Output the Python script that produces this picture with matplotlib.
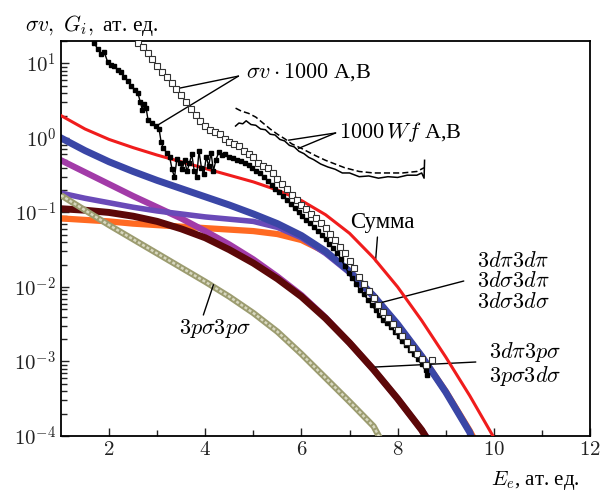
import numpy as np
import matplotlib
matplotlib.use("Agg")
import matplotlib.pyplot as plt

plt.rcParams['mathtext.fontset'] = 'cm'
plt.rcParams['font.family'] = ['Liberation Serif', 'DejaVu Serif']

# values are log10 of the quantity
sum_x = [1, 1.5, 2, 2.5, 3, 3.5, 4, 4.5, 5, 5.5, 6, 6.5, 7, 7.5, 8, 8.5, 9, 9.5, 10]
sum_lg = [0.30, 0.12, -0.02, -0.13, -0.23, -0.32, -0.41, -0.50, -0.59, -0.70,
          -0.84, -1.03, -1.28, -1.61, -2.00, -2.45, -2.94, -3.46, -4.02]

blue_x = [1, 1.5, 2, 2.5, 3, 3.5, 4, 4.5, 5, 5.5, 6, 6.5, 7, 7.5, 8, 8.5, 9, 9.5, 9.55]
blue_lg = [0.0, -0.17, -0.32, -0.45, -0.57, -0.68, -0.79, -0.90, -1.02, -1.15,
           -1.31, -1.52, -1.79, -2.12, -2.50, -2.93, -3.41, -3.95, -4.05]

slate_x = [1, 1.5, 2, 2.5, 3, 3.5, 4, 4.5, 5, 5.5, 6, 6.5, 7, 7.5, 8, 8.5, 9, 9.5, 9.55]
slate_lg = [-0.74, -0.81, -0.87, -0.93, -0.98, -1.02, -1.06, -1.09, -1.12, -1.20,
            -1.34, -1.55, -1.81, -2.14, -2.52, -2.94, -3.41, -3.95, -4.05]

orange_x = [1, 1.5, 2, 2.5, 3, 3.5, 4, 4.5, 5, 5.5, 6, 6.5, 7, 7.5, 8, 8.5, 9, 9.5, 9.6]
orange_lg = [-1.08, -1.10, -1.12, -1.15, -1.17, -1.19, -1.21, -1.23, -1.25, -1.29,
             -1.37, -1.53, -1.79, -2.12, -2.51, -2.93, -3.40, -3.93, -4.05]

magenta_x = [1, 1.5, 2, 2.5, 3, 3.5, 4, 4.5, 5, 5.5, 6, 6.5, 7, 7.5, 8, 8.5, 8.62]
magenta_lg = [-0.30, -0.46, -0.62, -0.78, -0.93, -1.08, -1.25, -1.43, -1.63, -1.86,
              -2.11, -2.41, -2.75, -3.11, -3.50, -3.92, -4.03]

maroon_x = [1, 1.5, 2, 2.5, 3, 3.5, 4, 4.5, 5, 5.5, 6, 6.5, 7, 7.5, 8, 8.5, 8.62]
maroon_lg = [-0.95, -0.97, -1.00, -1.05, -1.12, -1.22, -1.34, -1.50, -1.68, -1.89,
             -2.13, -2.42, -2.75, -3.11, -3.50, -3.92, -4.05]

olive_x = [1, 1.5, 2, 2.5, 3, 3.5, 4, 4.5, 5, 5.5, 6, 6.5, 7, 7.5, 7.65]
olive_lg = [-0.77, -0.97, -1.17, -1.36, -1.55, -1.74, -1.93, -2.13, -2.35, -2.60,
            -2.90, -3.22, -3.54, -3.87, -4.05]

# sigma*v*1000, A (filled squares)
sva_x = [1.68, 1.76, 1.84, 1.90, 1.97, 2.04, 2.11, 2.18, 2.25, 2.32, 2.39, 2.46,
         2.53, 2.60, 2.65, 2.69, 2.73, 2.77, 2.81, 2.90, 2.98, 3.04, 3.08, 3.13,
         3.20, 3.26, 3.31, 3.36, 3.41, 3.47, 3.52, 3.57, 3.62, 3.67, 3.72, 3.77,
         3.82, 3.87, 3.92, 3.97, 4.02, 4.07, 4.12, 4.17, 4.22, 4.28, 4.35, 4.42,
         4.50, 4.58, 4.66, 4.74, 4.82, 4.90, 4.98, 5.06, 5.14, 5.22, 5.30, 5.38,
         5.46, 5.54, 5.62, 5.70, 5.78, 5.86, 5.94, 6.02, 6.10, 6.18, 6.26, 6.34,
         6.42, 6.50, 6.58, 6.66, 6.74, 6.82, 6.90, 6.98, 7.06, 7.14, 7.22, 7.30,
         7.38, 7.46, 7.54, 7.62, 7.70, 7.78, 7.86, 7.94, 8.02, 8.10, 8.18, 8.26,
         8.34, 8.42, 8.50, 8.58, 8.62, 8.63]
sva_lg = [1.28, 1.20, 1.12, 1.15, 1.02, 0.98, 0.96, 0.91, 0.88, 0.82, 0.76, 0.70,
          0.64, 0.60, 0.48, 0.38, 0.45, 0.40, 0.24, 0.20, 0.16, 0.12, -0.05, -0.14,
          -0.20, -0.26, -0.42, -0.53, -0.28, -0.33, -0.42, -0.30, -0.45, -0.34, -0.22, -0.44,
          -0.52, -0.18, -0.40, -0.49, -0.25, -0.38, -0.20, -0.44, -0.30, -0.19, -0.23, -0.22,
          -0.25, -0.27, -0.29, -0.31, -0.33, -0.36, -0.40, -0.44, -0.47, -0.52, -0.58, -0.63,
          -0.68, -0.73, -0.78, -0.83, -0.89, -0.94, -1.00, -1.05, -1.10, -1.14, -1.20, -1.25,
          -1.30, -1.36, -1.42, -1.48, -1.54, -1.62, -1.72, -1.81, -1.88, -1.96, -2.04, -2.10,
          -2.17, -2.24, -2.31, -2.38, -2.44, -2.49, -2.54, -2.60, -2.66, -2.72, -2.78, -2.84,
          -2.90, -2.97, -3.04, -3.12, -3.18, -3.05]

# sigma*v*1000, B (open squares)
svb_x = [2.6, 2.7, 2.8, 2.9, 3.0, 3.1, 3.2, 3.3, 3.4, 3.5, 3.6, 3.7, 3.8, 3.9,
         4.0, 4.1, 4.2, 4.3, 4.4, 4.5, 4.6, 4.7, 4.8, 4.9, 5.0, 5.1, 5.2, 5.3,
         5.4, 5.5, 5.6, 5.7, 5.8, 5.9, 6.0, 6.1, 6.2, 6.3, 6.4, 6.5, 6.6, 6.7,
         6.8, 6.9, 7.0, 7.1, 7.2, 7.3, 7.4, 7.5, 7.6, 7.7, 7.8, 7.9, 8.0, 8.1,
         8.2, 8.3, 8.4, 8.5, 8.6, 8.72]
svb_lg = [1.28, 1.22, 1.14, 1.06, 0.96, 0.88, 0.82, 0.74, 0.66, 0.57, 0.48, 0.39,
          0.31, 0.23, 0.16, 0.11, 0.08, 0.05, -0.01, -0.05, -0.08, -0.11, -0.17, -0.21,
          -0.26, -0.33, -0.37, -0.41, -0.47, -0.55, -0.62, -0.69, -0.76, -0.83, -0.90, -0.96,
          -1.02, -1.08, -1.14, -1.21, -1.29, -1.37, -1.46, -1.55, -1.65, -1.75, -1.86, -1.96,
          -2.06, -2.15, -2.24, -2.33, -2.42, -2.50, -2.58, -2.66, -2.74, -2.82, -2.90, -2.97,
          -3.05, -2.98]

# 1000*Wf, A (solid) and B (dashed)
wfa_x = [4.63, 4.70, 4.78, 4.85, 4.95, 5.05, 5.15, 5.25, 5.35, 5.45, 5.55, 5.65,
         5.75, 5.85, 5.95, 6.05, 6.15, 6.25, 6.40, 6.55, 6.70, 6.85, 7.00, 7.20,
         7.40, 7.60, 7.80, 8.00, 8.20, 8.40, 8.50, 8.55, 8.56]
wfa_lg = [0.16, 0.20, 0.19, 0.23, 0.18, 0.17, 0.12, 0.11, 0.05, 0.04, -0.02, -0.04,
          -0.10, -0.12, -0.18, -0.21, -0.26, -0.29, -0.35, -0.39, -0.42, -0.47, -0.47, -0.52,
          -0.51, -0.54, -0.52, -0.53, -0.50, -0.50, -0.47, -0.54, -0.30]
wfb_x = [4.63, 4.75, 4.90, 5.05, 5.20, 5.35, 5.50, 5.65, 5.80, 6.00, 6.15, 6.30,
         6.50, 6.70, 6.90, 7.20, 7.50, 7.80, 8.10, 8.40, 8.55]
wfb_lg = [0.40, 0.36, 0.33, 0.28, 0.20, 0.12, 0.05, -0.01, -0.08, -0.14, -0.19, -0.24,
          -0.30, -0.35, -0.40, -0.45, -0.47, -0.47, -0.47, -0.45, -0.40]

x_ticks = [2, 4, 6, 8, 10, 12]
x_minor = [3, 5, 7, 9, 11]
y_exp = [-4, -3, -2, -1, 0, 1]


def v(lg):
    return 10.0 ** np.array(lg)


fig = plt.figure(figsize=(6, 4.95), dpi=100)
ax = fig.add_axes([61 / 600, 1 - 436 / 495, 529 / 600, 395 / 495])
ax.set_yscale('log')

ax.plot(orange_x, v(orange_lg), color='#ff6a22', lw=4.5, zorder=2)
ax.plot(magenta_x, v(magenta_lg), color='#a23ba8', lw=4.5, zorder=2)
ax.plot(maroon_x, v(maroon_lg), color='#5c0808', lw=5, zorder=2)
ax.plot(slate_x, v(slate_lg), color='#6a4ab8', lw=4, zorder=2)
ax.plot(blue_x, v(blue_lg), color='#3a46a6', lw=5, zorder=2)
ax.plot(olive_x, v(olive_lg), color='#9c9c70', lw=4.5, solid_capstyle='butt', zorder=3)
ax.plot(olive_x, v(olive_lg), color='#d8d8c0', lw=1.8, ls=(0, (1.2, 0.8)), zorder=3)
ax.plot(sum_x, v(sum_lg), color='#f01c1c', lw=2.2, zorder=4)

ax.plot(sva_x, v(sva_lg), color='black', lw=1, marker='s', ms=3.4, zorder=5)
ax.plot(svb_x, v(svb_lg), ls='none', marker='s', ms=4.8, mfc='white',
        mec='#333333', mew=0.8, zorder=5)
ax.plot(wfa_x, v(wfa_lg), color='black', lw=1.1, zorder=5)
ax.plot(wfb_x, v(wfb_lg), color='black', lw=1.1, ls=(0, (4, 2)), zorder=5)

ax.set_xlim(1, 12)
ax.set_ylim(1e-4, 20)
ax.set_xticks(x_ticks)
ax.set_xticklabels([r'$%d$' % t for t in x_ticks])
ax.set_xticks(x_minor, minor=True)
ax.set_yticks([10.0 ** e for e in y_exp])
ax.set_yticklabels([r'$10^{%d}$' % e for e in y_exp])
ax.tick_params(which='both', direction='in', top=False, right=False, width=1,
               labelsize=15, colors='#222222')
ax.tick_params(which='major', length=6)
ax.tick_params(which='minor', length=4)
for s in ax.spines.values():
    s.set_linewidth(1.3)

line = dict(arrowstyle='-', lw=1, color='black', shrinkA=0, shrinkB=0)
fs = 16

# sigma v labels
ax.text(4.85, 7.7, r'$\sigma v \cdot 1000$ A,B', fontsize=fs, va='center', ha='left')
ax.annotate('', xy=(svb_x[8], v(svb_lg[8])), xytext=(4.69, 10 ** 0.83), arrowprops=line)
ax.annotate('', xy=(sva_x[20], v(sva_lg[20])), xytext=(4.69, 10 ** 0.83), arrowprops=line)

ax.text(6.79, 1.2, r'$1000\,Wf$ A,B', fontsize=fs, va='center', ha='left')
ax.annotate('', xy=(5.73, 10 ** -0.03), xytext=(6.71, 10 ** 0.067), arrowprops=line)
ax.annotate('', xy=(5.94, 10 ** -0.14), xytext=(6.71, 10 ** 0.067), arrowprops=line)

ax.text(7.69, 10 ** -1.14, 'Сумма', fontsize=fs + 0.5, va='center', ha='center')
ax.annotate('', xy=(7.54, 10 ** -1.66), xytext=(7.58, 10 ** -1.33), arrowprops=line)

for lab, lg in zip([r'$3d\pi3d\pi$', r'$3d\sigma3d\pi$', r'$3d\sigma3d\sigma$'],
                   [-1.664, -1.933, -2.215]):
    ax.text(9.65, 10 ** lg, lab, fontsize=fs, va='center', ha='left')
ax.annotate('', xy=(7.625, 10 ** -2.215), xytext=(9.375, 10 ** -1.92), arrowprops=line)

for lab, lg in zip([r'$3d\pi3p\sigma$', r'$3p\sigma3d\sigma$'], [-2.875, -3.19]):
    ax.text(9.9, 10 ** lg, lab, fontsize=fs, va='center', ha='left')
ax.annotate('', xy=(7.54, 10 ** -3.074), xytext=(9.625, 10 ** -3.007), arrowprops=line)

ax.text(4.21, 10 ** -2.564, r'$3p\sigma3p\sigma$', fontsize=fs, va='center', ha='center')
ax.annotate('', xy=(4.17, 10 ** -1.97), xytext=(3.96, 10 ** -2.376), arrowprops=line)

fig.text(25 / 600, 1 - 25 / 495, r'$\sigma v,\ G_i,$ ат. ед.', fontsize=15.5,
         va='center', ha='left')
fig.text(491 / 600, 1 - 481 / 495, r'$E_e$, ат. ед.', fontsize=15,
         va='center', ha='left')

fig.savefig('out.png', dpi=100)
